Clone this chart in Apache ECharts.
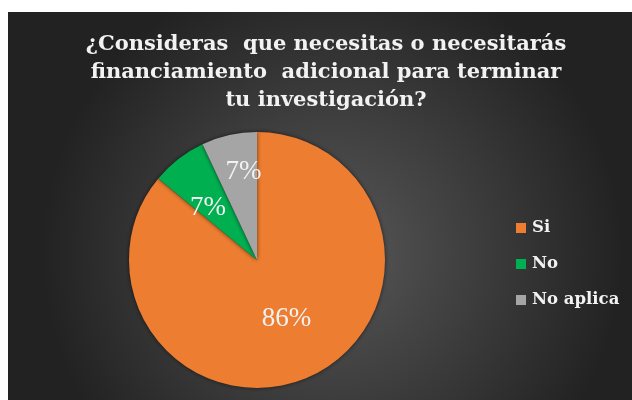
<!DOCTYPE html>
<html><head><meta charset="utf-8">
<script src="https://cdn.jsdelivr.net/npm/echarts@6/dist/echarts.min.js"></script>
<style>html,body{margin:0;padding:0;background:#fff;}#c{width:632px;height:400px;}</style>
</head><body><div id="c"></div>
<script>
const titleLines = ['¿Consideras  que necesitas o necesitarás', 'financiamiento  adicional para terminar', 'tu investigación?'];
const categories = ['Si', 'No', 'No aplica'];
const values = [86, 7, 7];
const colors = ['#ED7D31', '#00B050', '#A5A5A5'];

const chart = echarts.init(document.getElementById('c'), null, {renderer: 'canvas'});
const serif = '"DejaVu Serif", "Liberation Serif", serif';
const serif2 = '"Liberation Serif", "DejaVu Serif", serif';
chart.setOption({
  backgroundColor: '#ffffff',
  graphic: [{
    type: 'rect', z: -10, silent: true,
    shape: {x: 8, y: 12, width: 624, height: 388},
    style: {fill: {type: 'radial', x: 0.52, y: 0.62, r: 0.75,
      colorStops: [{offset: 0, color: '#585858'}, {offset: 1, color: '#222222'}]}}
  }],
  title: {
    text: titleLines.join('\n'),
    left: 321, top: 26, textAlign: 'center',
    textStyle: {color: '#f2f2f2', fontFamily: serif, fontWeight: 'bold', fontSize: 21, lineHeight: 28}
  },
  legend: {
    orient: 'vertical', left: 516, top: 219, padding: 0, itemWidth: 10, itemHeight: 10, itemGap: 18,
    icon: 'rect', data: categories,
    textStyle: {color: '#f2f2f2', fontFamily: serif, fontWeight: 'bold', fontSize: 16.5, lineHeight: 18, padding: [0, 0, 0, 1]}
  },
  series: [{
    type: 'pie', center: [257, 260], radius: 128, startAngle: 90, clockwise: true,
    data: categories.map((c, i) => ({name: c, value: values[i], itemStyle: {color: colors[i]}})),
    itemStyle: {shadowBlur: 4, shadowColor: 'rgba(0,0,0,0.6)'},
    label: {position: 'inside', color: '#f2f2f2', fontFamily: serif2, fontSize: 27,
      formatter: p => Math.round(p.value) + '%'},
    labelLayout: p => {
      const adj = [[1, -2], [-8, 1], [1, -23]];
      return {dx: adj[p.dataIndex][0], dy: adj[p.dataIndex][1]};
    },
    emphasis: {disabled: true}
  }]
});
</script></body></html>
